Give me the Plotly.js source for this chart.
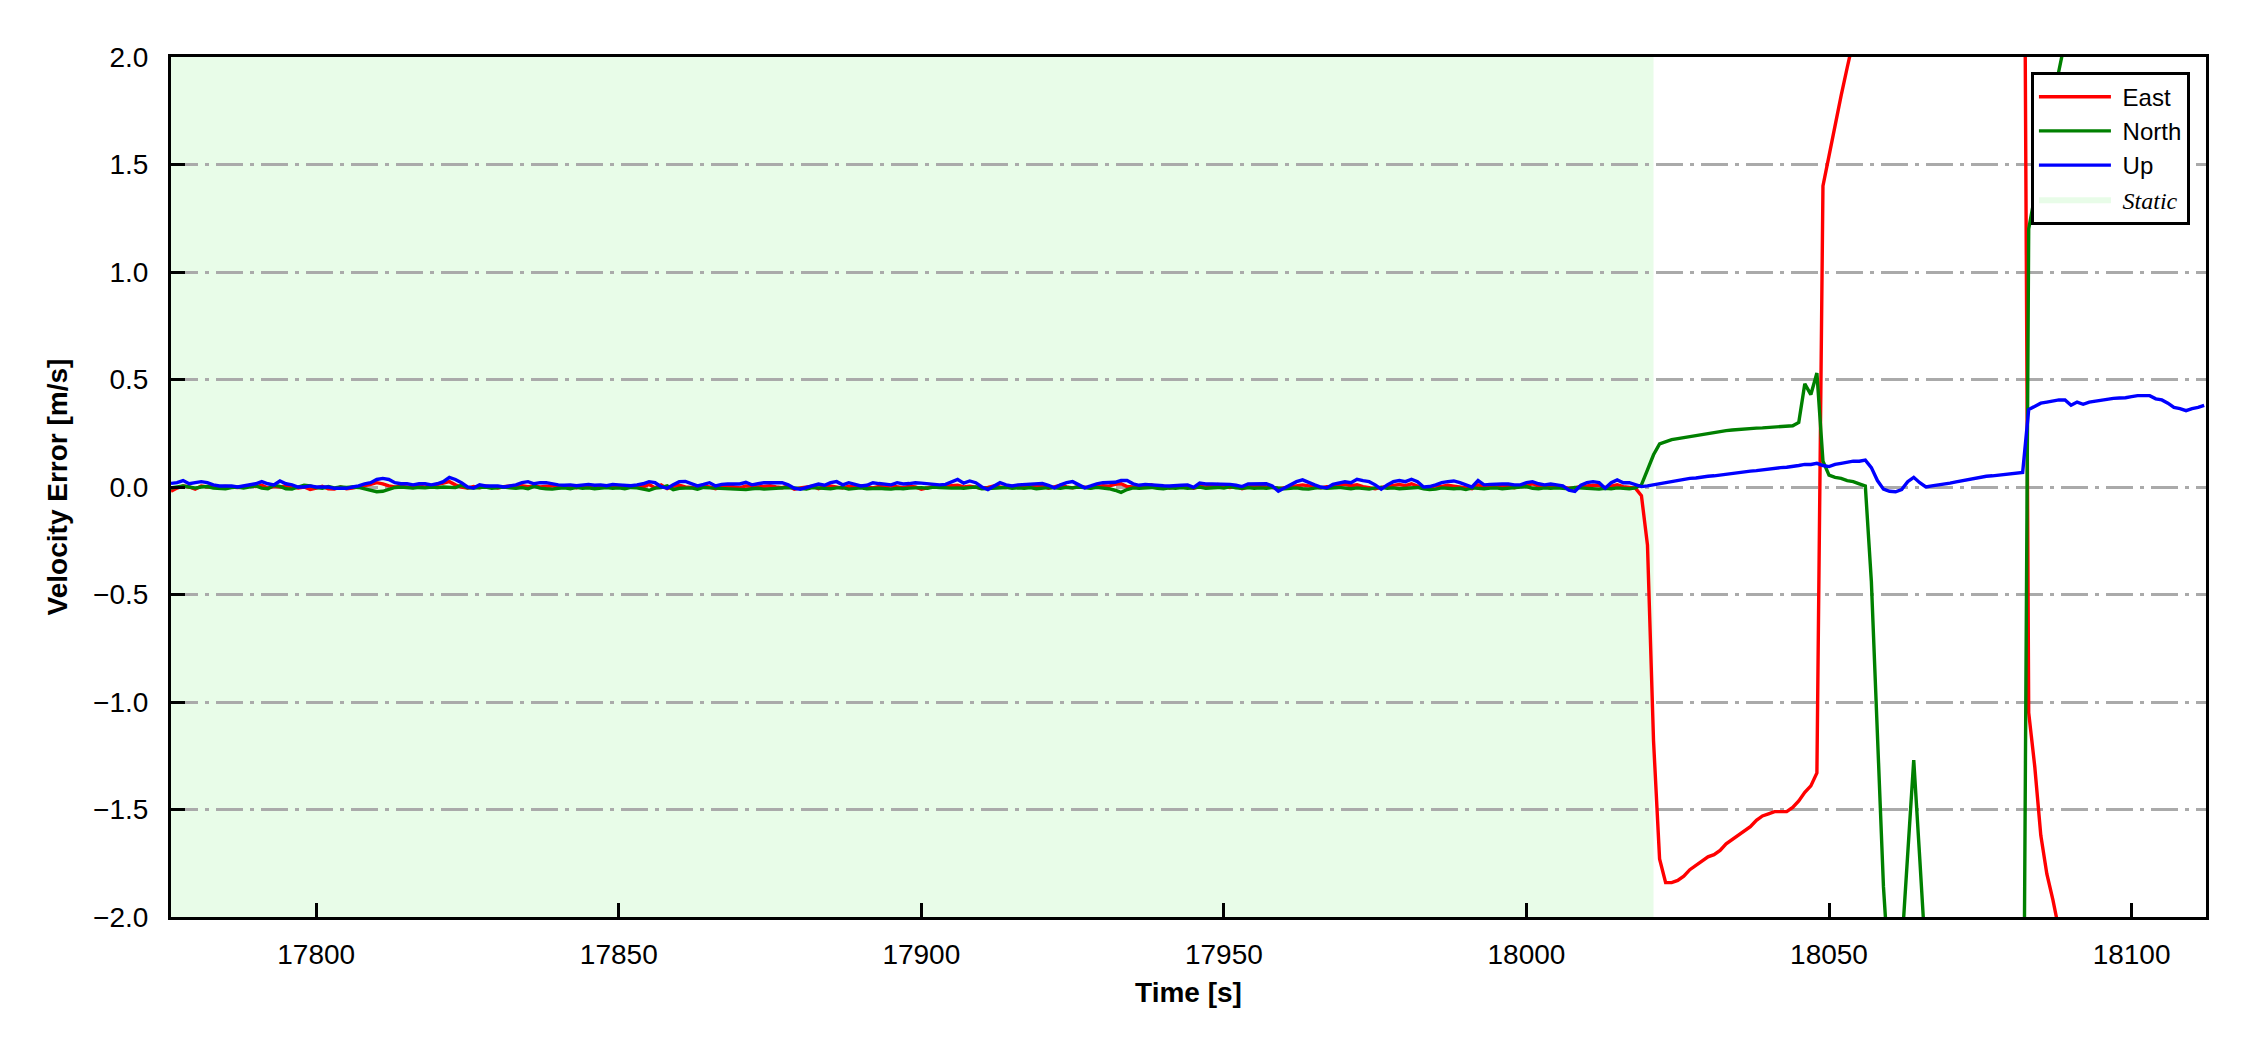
<!DOCTYPE html>
<html>
<head>
<meta charset="utf-8">
<script src="https://cdn.plot.ly/plotly-3.0.1.min.js"></script>
<style>
  html, body { margin: 0; padding: 0; background: #ffffff; }
  #chart { width: 2250px; height: 1050px; }
</style>
</head>
<body>
<div id="chart"></div>
<script>
// Sampling clock (1 Hz) of the velocity-error series
const sampleStart = 17776;
const sampleStep = 1;

// Static interval (shaded)
const staticStart = 17700;
const staticEnd = 18021;

// East velocity error [m/s], one row = 10 samples
const eastErr = [
  -0.02, -0.005, 0.005, 0.0, -0.01, 0.005, 0.0, 0.003, 0.0, 0.002,        // 17776
  0.0, -0.003, 0.0, 0.005, 0.002, 0.008, -0.005, 0.003, 0.0, 0.005,       // 17786
  0.002, -0.005, 0.0, -0.012, -0.005, 0.003, -0.008, -0.01, 0.0, -0.008,  // 17796
  -0.005, 0.0, 0.005, 0.012, 0.02, 0.015, 0.005, 0.0, 0.002, 0.0,         // 17806
  -0.002, 0.003, 0.0, 0.005, 0.01, 0.018, 0.025, 0.01, 0.0, -0.005,       // 17816
  0.002, -0.003, 0.005, 0.0, -0.005, 0.002, 0.005, 0.0, 0.006, 0.002,     // 17826
  0.005, 0.0, 0.003, 0.006, 0.0, 0.005, 0.002, -0.004, 0.003, 0.0,        // 17836
  -0.005, 0.002, 0.005, 0.0, 0.003, -0.002, 0.004, 0.006, 0.0, 0.012,     // 17846
  -0.004, 0.01, -0.008, 0.003, 0.008, 0.0, -0.002, -0.006, 0.004, 0.0,    // 17856
  -0.008, 0.002, 0.006, 0.0, -0.004, 0.005, 0.002, 0.0, 0.003, 0.006,     // 17866
  0.0, -0.003, 0.005, -0.01, -0.004, 0.0, 0.004, -0.008, 0.002, 0.005,    // 17876
  0.0, -0.005, 0.004, 0.0, 0.006, 0.002, -0.004, 0.003, 0.0, 0.005,       // 17886
  0.002, -0.003, 0.004, 0.0, -0.01, -0.004, 0.003, 0.0, 0.005, 0.006,     // 17896
  0.008, 0.0, 0.004, -0.002, -0.006, -0.002, 0.005, 0.0, -0.003, 0.004,   // 17906
  0.002, 0.006, 0.0, 0.003, 0.004, -0.006, 0.002, 0.008, 0.0, -0.004,     // 17916
  0.003, 0.0, -0.004, 0.002, 0.006, 0.004, 0.012, 0.015, 0.002, 0.0,      // 17926
  -0.003, 0.003, 0.01, 0.0, 0.004, -0.005, -0.002, 0.004, 0.0, -0.006,    // 17936
  0.003, 0.0, 0.005, 0.012, 0.003, -0.002, 0.004, -0.008, 0.0, 0.004,     // 17946
  0.006, 0.0, -0.002, -0.008, -0.004, 0.002, 0.006, 0.01, 0.005, 0.0,     // 17956
  -0.004, 0.002, 0.003, 0.008, 0.012, 0.006, 0.01, 0.002, -0.003, -0.008, // 17966
  -0.002, 0.004, 0.01, 0.012, 0.006, 0.015, 0.004, -0.004, 0.0, 0.005,    // 17976
  0.003, 0.008, 0.004, 0.0, -0.006, -0.008, 0.01, 0.002, 0.004, 0.0,      // 17986
  0.003, 0.002, -0.004, 0.004, 0.008, 0.015, 0.004, 0.0, 0.003, 0.006,    // 17996
  0.0, -0.006, -0.004, 0.004, 0.005, 0.008, 0.006, -0.003, 0.004, 0.01,   // 18006
  0.002, 0.0, -0.005, -0.04, -0.27, -1.18, -1.73, -1.84, -1.84, -1.83,    // 18016
  -1.81, -1.78, -1.76, -1.74, -1.72, -1.71, -1.69, -1.66, -1.64, -1.62,   // 18026
  -1.6, -1.58, -1.55, -1.53, -1.52, -1.51, -1.51, -1.51, -1.49, -1.46,    // 18036
  -1.42, -1.39, -1.33, 1.4, 1.54, 1.69, 1.82, 1.95, 2.07, 2.2,            // 18046
  2.3, 2.45, 2.6, 2.7, 2.85, 3.0, 3.1, 3.2, 3.3, 3.4,                     // 18056
  3.5, 3.6, 3.65, 3.7, 3.8, 3.85, 3.9, 3.95, 4.0, 4.05,                   // 18066
  4.1, 4.1, 4.15, 4.2, 4.2, 4.25, 4.3, -1.05, -1.3, -1.62,                // 18076
  -1.8, -1.92, -2.05, -2.2, -2.35, -2.5, -2.6, -2.7, -2.8, -2.9,          // 18086
  -3.0, -3.05, -3.1, -3.15, -3.2, -3.25, -3.3, -3.3, -3.35, -3.4,         // 18096
  -3.4, -3.45, -3.5, -3.5, -3.55, -3.6, -3.6                              // 18106
];

// North velocity error [m/s]
const northErr = [
  -0.005, 0.0, 0.005, 0.0, -0.005, 0.0, 0.002, -0.005, -0.008, -0.008,     // 17776
  -0.003, 0.0, -0.005, 0.0, 0.005, -0.005, -0.008, 0.008, 0.003, -0.008,  // 17786
  -0.01, 0.0, 0.008, 0.005, -0.003, -0.006, 0.002, -0.004, 0.0, -0.002,   // 17796
  0.0, -0.002, -0.01, -0.018, -0.022, -0.02, -0.012, -0.002, 0.0, -0.002, // 17806
  -0.005, -0.002, -0.004, 0.0, -0.003, 0.0, 0.0, -0.003, 0.008, -0.004,   // 17816
  -0.005, -0.002, 0.0, -0.006, -0.002, 0.0, -0.004, -0.006, -0.003, -0.008, // 17826
  0.003, -0.005, -0.008, -0.01, -0.006, -0.004, -0.008, -0.002, -0.006, -0.004, // 17836
  -0.008, -0.006, -0.003, -0.006, -0.004, -0.008, -0.002, -0.004, -0.008, -0.015, // 17846
  -0.005, -0.003, 0.005, -0.012, -0.006, -0.003, -0.004, -0.01, -0.002, -0.004, // 17856
  -0.005, -0.008, -0.006, -0.008, -0.01, -0.012, -0.008, -0.006, -0.01, -0.008, // 17866
  -0.006, -0.004, -0.002, -0.004, -0.008, -0.01, -0.003, -0.006, -0.005, -0.008, // 17876
  -0.004, -0.003, -0.01, -0.006, -0.004, -0.008, -0.005, -0.006, -0.008, -0.01, // 17886
  -0.006, -0.008, -0.005, -0.004, -0.003, -0.006, 0.0, -0.002, -0.004, -0.005, // 17896
  -0.004, -0.006, -0.003, 0.0, -0.008, -0.006, -0.003, -0.004, -0.002, -0.006, // 17906
  -0.004, -0.006, -0.003, -0.008, -0.005, -0.003, -0.004, -0.006, -0.002, -0.004, // 17916
  0.0, -0.004, -0.006, -0.002, -0.005, -0.008, -0.015, -0.025, -0.012, -0.004, // 17926
  -0.006, -0.004, -0.002, -0.006, -0.008, -0.004, -0.006, -0.003, -0.006, -0.004, // 17936
  0.0, -0.006, -0.004, -0.002, -0.005, 0.002, -0.004, -0.006, -0.003, -0.006, // 17946
  -0.004, -0.006, -0.002, -0.004, -0.008, -0.006, -0.004, -0.008, -0.01, -0.005, // 17956
  -0.003, -0.006, -0.004, -0.002, -0.005, -0.008, -0.004, -0.006, -0.01, -0.004, // 17966
  -0.002, -0.006, -0.004, -0.008, -0.006, -0.004, -0.002, -0.008, -0.012, -0.01, // 17976
  -0.004, -0.006, -0.008, -0.006, -0.012, -0.004, -0.006, -0.008, -0.005, -0.004, // 17986
  -0.008, -0.006, -0.004, -0.002, 0.002, -0.006, -0.008, -0.004, -0.006, -0.004, // 17996
  -0.006, -0.008, -0.002, -0.004, -0.006, -0.008, -0.01, -0.006, -0.008, -0.004, // 18006
  -0.006, -0.008, -0.004, 0.01, 0.08, 0.15, 0.2, 0.21, 0.22, 0.225,       // 18016
  0.23, 0.235, 0.24, 0.245, 0.25, 0.255, 0.258, 0.262, 0.265, 0.268,      // 18026
  0.27, 0.272, 0.274, 0.275, 0.277, 0.278, 0.28, 0.282, 0.285, 0.3,       // 18036
  0.48, 0.43, 0.53, 0.12, 0.055, 0.045, 0.04, 0.03, 0.025, 0.015,         // 18046
  0.005, -0.44, -1.15, -1.86, -2.3, -2.6, -2.15, -1.7, -1.27, -1.73,      // 18056
  -2.2, -2.5, -2.7, -2.8, -2.9, -3.0, -3.0, -3.1, -3.1, -3.2,             // 18066
  -3.2, -3.2, -3.3, -3.3, -3.3, -3.4, -3.4, 1.2, 1.36, 1.51,              // 18076
  1.66, 1.8, 1.94, 2.08, 2.2, 2.35, 2.45, 2.55, 2.65, 2.75,               // 18086
  2.85, 2.9, 3.0, 3.05, 3.1, 3.15, 3.2, 3.25, 3.3, 3.3,                   // 18096
  3.35, 3.4, 3.4, 3.45, 3.5, 3.5, 3.55                                    // 18106
];

// Up velocity error [m/s]
const upErr = [
  0.017, 0.02, 0.03, 0.015, 0.02, 0.025, 0.02, 0.01, 0.005, 0.005,        // 17776
  0.005, 0.0, 0.005, 0.01, 0.015, 0.025, 0.015, 0.01, 0.028, 0.015,       // 17786
  0.01, 0.0, 0.0, 0.005, 0.0, 0.0, 0.0, -0.006, -0.005, -0.006,           // 17796
  0.0, 0.005, 0.015, 0.02, 0.035, 0.04, 0.035, 0.02, 0.015, 0.015,        // 17806
  0.01, 0.015, 0.015, 0.01, 0.015, 0.025, 0.045, 0.035, 0.02, 0.0,        // 17816
  -0.005, 0.01, 0.005, 0.005, 0.005, 0.0, 0.005, 0.01, 0.02, 0.025,       // 17826
  0.015, 0.02, 0.02, 0.013, 0.01, 0.008, 0.01, 0.006, 0.01, 0.012,        // 17836
  0.008, 0.01, 0.006, 0.012, 0.01, 0.008, 0.006, 0.01, 0.015, 0.025,      // 17846
  0.02, 0.002, -0.006, 0.01, 0.025, 0.026, 0.015, 0.005, 0.012, 0.02,     // 17856
  0.005, 0.012, 0.014, 0.014, 0.014, 0.022, 0.01, 0.015, 0.02, 0.02,      // 17866
  0.02, 0.02, 0.01, -0.006, -0.01, -0.002, 0.008, 0.014, 0.008, 0.02,     // 17876
  0.025, 0.01, 0.02, 0.014, 0.005, 0.008, 0.02, 0.016, 0.012, 0.01,       // 17886
  0.02, 0.014, 0.016, 0.02, 0.018, 0.015, 0.01, 0.01, 0.012, 0.025,       // 17896
  0.035, 0.018, 0.028, 0.02, 0.0, -0.012, 0.005, 0.02, 0.01, 0.005,       // 17906
  0.01, 0.012, 0.014, 0.014, 0.016, 0.008, -0.004, 0.01, 0.02, 0.025,     // 17916
  0.01, -0.004, 0.005, 0.015, 0.02, 0.02, 0.022, 0.03, 0.03, 0.015,       // 17926
  0.008, 0.012, 0.01, 0.005, 0.006, 0.005, 0.005, 0.008, 0.01, -0.002,   // 17936
  0.018, 0.014, 0.014, 0.014, 0.014, 0.012, 0.008, 0.002, 0.014, 0.015,   // 17946
  0.016, 0.015, 0.005, -0.02, -0.005, 0.01, 0.025, 0.033, 0.02, 0.01,     // 17956
  0.0, -0.004, 0.012, 0.02, 0.024, 0.02, 0.036, 0.03, 0.025, 0.01,        // 17966
  -0.01, 0.01, 0.025, 0.03, 0.025, 0.036, 0.025, 0.0, 0.002, 0.01,        // 17976
  0.02, 0.025, 0.028, 0.02, 0.012, 0.0, 0.03, 0.01, 0.012, 0.014,         // 17986
  0.014, 0.014, 0.01, 0.01, 0.02, 0.025, 0.015, 0.01, 0.014, 0.01,        // 17996
  0.005, -0.015, -0.02, 0.008, 0.02, 0.025, 0.02, -0.006, 0.02, 0.033,    // 18006
  0.02, 0.02, 0.01, 0.002, 0.005, 0.01, 0.015, 0.02, 0.028, 0.032,        // 18016
  0.035, 0.04, 0.042, 0.048, 0.05, 0.052, 0.056, 0.06, 0.062, 0.068,      // 18026
  0.072, 0.074, 0.076, 0.08, 0.085, 0.088, 0.09, 0.092, 0.095, 0.1,       // 18036
  0.105, 0.105, 0.11, 0.1, 0.095, 0.105, 0.11, 0.115, 0.12, 0.12,         // 18046
  0.125, 0.09, 0.03, -0.01, -0.02, -0.022, -0.012, 0.025, 0.045, 0.02,    // 18056
  0.0, 0.005, 0.008, 0.012, 0.018, 0.024, 0.03, 0.035, 0.04, 0.045,       // 18066
  0.05, 0.052, 0.056, 0.06, 0.063, 0.066, 0.068, 0.36, 0.375, 0.39,       // 18076
  0.395, 0.4, 0.405, 0.405, 0.38, 0.395, 0.385, 0.395, 0.4, 0.405,        // 18086
  0.41, 0.412, 0.414, 0.415, 0.42, 0.425, 0.425, 0.425, 0.41, 0.405,      // 18096
  0.39, 0.37, 0.365, 0.355, 0.365, 0.37, 0.38                            // 18106
];

const seriesNames = ['East', 'North', 'Up'];
const seriesColors = ['#ff0000', '#008000', '#0000ff'];
const staticLabel = 'Static';
const staticColor = '#e8fce8';

const yTickVals = [-2.0, -1.5, -1.0, -0.5, 0.0, 0.5, 1.0, 1.5, 2.0];
const xTickVals = [17800, 17850, 17900, 17950, 18000, 18050, 18100];

const time = upErr.map((_, i) => sampleStart + i * sampleStep);

const FONT = 'Liberation Sans, Arial, sans-serif';
const GAP = '\u00a0';

const lineTraces = [eastErr, northErr, upErr].map((vals, k) => ({
  x: time,
  y: vals,
  type: 'scatter',
  mode: 'lines',
  name: GAP + seriesNames[k],
  line: { color: seriesColors[k], width: 3.4 },
  legendrank: k + 1
}));

// legend swatch for the static interval (the shading itself is a layout shape below the grid)
const staticLegend = {
  x: [staticStart, staticEnd],
  y: [null, null],
  type: 'scatter',
  mode: 'lines',
  fill: 'toself',
  fillcolor: staticColor,
  line: { width: 0, color: staticColor },
  name: GAP + '<span style="font-family:Liberation Serif;font-style:italic">' + staticLabel + '</span>',
  legendrank: 4,
  hoverinfo: 'skip'
};

const layout = {
  width: 2250,
  height: 1050,
  paper_bgcolor: '#ffffff',
  plot_bgcolor: '#ffffff',
  margin: { l: 171, r: 44, t: 57, b: 133 },
  font: { family: FONT, size: 28, color: '#000000' },
  showlegend: true,
  legend: {
    x: 0.9921, y: 0.983, xanchor: 'right', yanchor: 'top',
    bgcolor: '#ffffff', bordercolor: '#000000', borderwidth: 3,
    font: { family: FONT, size: 24, color: '#000000' },
    traceorder: 'normal',
    tracegroupgap: 0,
    itemwidth: 72
  },
  shapes: [{
    type: 'rect', xref: 'x', yref: 'paper',
    x0: staticStart, x1: staticEnd, y0: 0, y1: 1,
    fillcolor: staticColor, line: { width: 0 }, layer: 'below'
  }],
  xaxis: {
    range: [17776, 18112.3],
    tickvals: xTickVals,
    ticktext: xTickVals.map(String),
    ticks: 'inside', ticklen: 14, tickwidth: 3, tickcolor: '#000000',
    showline: true, linewidth: 3, linecolor: '#000000', mirror: true,
    showgrid: false, zeroline: false,
    tickfont: { family: FONT, size: 28, color: '#000000' },
    ticklabelstandoff: 10,
    title: { text: '<b>Time [s]</b>', font: { family: FONT, size: 28, color: '#000000' }, standoff: 14 }
  },
  yaxis: {
    range: [-2, 2],
    tickvals: yTickVals,
    tickformat: '.1f',
    ticks: 'inside', ticklen: 14, tickwidth: 3, tickcolor: '#000000',
    showline: true, linewidth: 3, linecolor: '#000000', mirror: true,
    showgrid: true, gridcolor: '#aaaaaa', gridwidth: 3, griddash: '27px,7px,4px,7px',
    zeroline: false,
    tickfont: { family: FONT, size: 28, color: '#000000' },
    ticklabelstandoff: 14,
    title: { text: '<b>Velocity Error [m/s]</b>', font: { family: FONT, size: 28, color: '#000000' }, standoff: 18 }
  }
};

Plotly.newPlot('chart', [...lineTraces, staticLegend], layout, { displayModeBar: false, staticPlot: true });
</script>
</body>
</html>
